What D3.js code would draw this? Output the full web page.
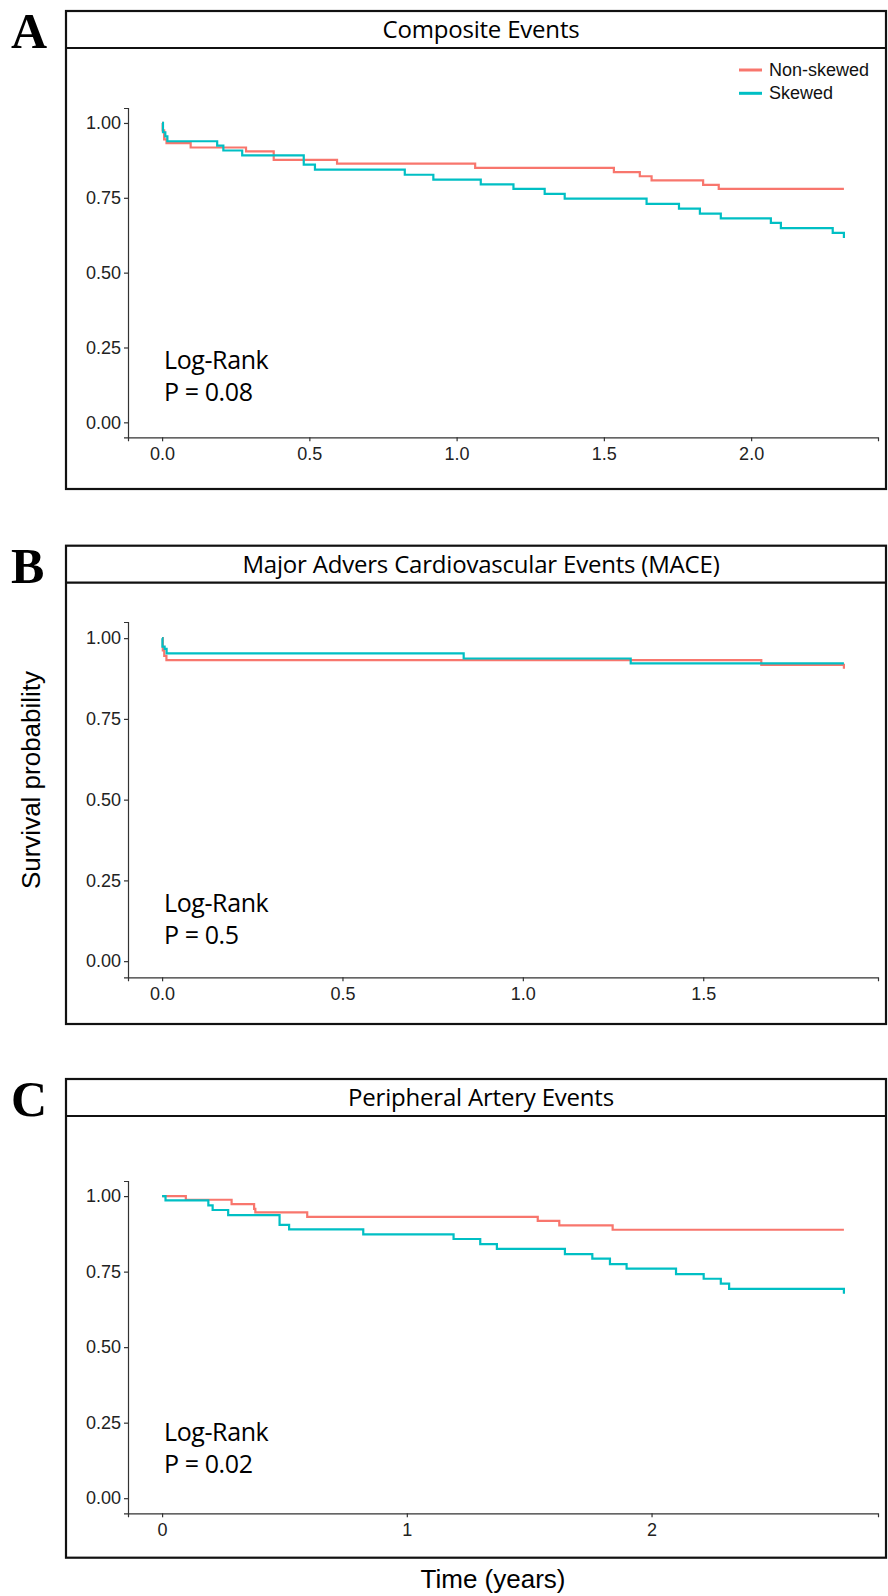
<!DOCTYPE html>
<html>
<head>
<meta charset="utf-8">
<script src="https://cdn.jsdelivr.net/npm/d3@7"></script>
<style>
  html, body { margin: 0; padding: 0; background: #fff; }
  svg { display: block; }
  .tick text { font-family: "Liberation Sans", Arial, sans-serif; font-size: 18px; fill: #222; }
  .tick line, .domain { stroke: #333; stroke-width: 1.2px; }
</style>
</head>
<body>
<div id="chart"></div>
<script>
// ---- data (time in years, survival probability) ----
const seriesNames = ['Non-skewed', 'Skewed'];
const seriesColors = ['#F8766D', '#00BFC4'];

const aEnd = 2.315;
const aTimeNon = [0, 0.002, 0.007, 0.015, 0.097, 0.285, 0.379, 0.594, 1.063, 1.534, 1.622, 1.662, 1.837, 1.89];
const aSurvNon = [1, 0.975, 0.945, 0.933, 0.918, 0.905, 0.877, 0.864, 0.850, 0.836, 0.822, 0.808, 0.793, 0.780];
const aTimeSkew = [0, 0.003, 0.011, 0.018, 0.187, 0.208, 0.272, 0.481, 0.519, 0.824, 0.921, 1.082, 1.193, 1.299, 1.367, 1.645, 1.755, 1.826, 1.897, 2.067, 2.101, 2.277, 2.315];
const aSurvSkew = [1, 0.969, 0.955, 0.939, 0.924, 0.908, 0.892, 0.861, 0.844, 0.827, 0.811, 0.795, 0.780, 0.763, 0.747, 0.730, 0.714, 0.697, 0.681, 0.666, 0.649, 0.633, 0.616];

const bEnd = 1.89;
const bTimeNon = [0, 0.002, 0.006, 0.012, 1.661, 1.89];
const bSurvNon = [1, 0.962, 0.945, 0.932, 0.917, 0.905];
const bTimeSkew = [0, 0.001, 0.007, 0.0125, 0.836, 1.299];
const bSurvSkew = [1, 0.974, 0.967, 0.953, 0.937, 0.922];

const cEnd = 2.786;
const cTimeNon = [0, 0.097, 0.284, 0.376, 0.381, 0.593, 1.535, 1.623, 1.841];
const cSurvNon = [1, 0.988, 0.9735, 0.958, 0.946, 0.9315, 0.918, 0.903, 0.8886];
const cTimeSkew = [0, 0.014, 0.189, 0.2065, 0.27, 0.48, 0.519, 0.822, 1.191, 1.30, 1.368, 1.646, 1.758, 1.83, 1.898, 2.10, 2.213, 2.283, 2.317, 2.786];
const cSurvSkew = [1, 0.986, 0.969, 0.954, 0.937, 0.905, 0.890, 0.873, 0.858, 0.841, 0.825, 0.808, 0.793, 0.775, 0.760, 0.742, 0.7265, 0.710, 0.693, 0.677];

const yTicks = [0, 0.25, 0.5, 0.75, 1];
const aTicks = [0, 0.5, 1, 1.5, 2];
const bTicks = [0, 0.5, 1, 1.5];
const cTicks = [0, 1, 2];

const panelLabels = ['A', 'B', 'C'];
const panelTitles = ['Composite Events', 'Major Advers Cardiovascular Events (MACE)', 'Peripheral Artery Events'];
const pValues = ['P = 0.08', 'P = 0.5', 'P = 0.02'];

// ---- layout ----
const W = 888, H = 1596;
const boxLeft = 66, boxRight = 886, stripH = 37;
const plotLeft = 128, plotRight = 878;

const panels = [
  { top: 11, bottom: 489, plotTop: 108, plotBottom: 437.3, annoY: 369, end: aEnd, ticks: aTicks, fmt: d3.format('.1f'),
    series: [[aTimeNon, aSurvNon], [aTimeSkew, aSurvSkew]], legend: true },
  { top: 545.7, bottom: 1024, plotTop: 622, plotBottom: 977.3, annoY: 912, end: bEnd, ticks: bTicks, fmt: d3.format('.1f'),
    series: [[bTimeNon, bSurvNon], [bTimeSkew, bSurvSkew]] },
  { top: 1079, bottom: 1557.7, plotTop: 1181, plotBottom: 1513.3, annoY: 1441, end: cEnd, ticks: cTicks, fmt: d3.format('d'),
    series: [[cTimeNon, cSurvNon], [cTimeSkew, cSurvSkew]] }
];

const svg = d3.select('#chart').append('svg')
  .attr('width', W)
  .attr('height', H);

const myriad = '"Open Sans", "Noto Sans", sans-serif';

panels.forEach((p, i) => {
  const g = svg.append('g');

  // outer box and strip
  g.append('rect')
    .attr('x', boxLeft).attr('y', p.top)
    .attr('width', boxRight - boxLeft).attr('height', p.bottom - p.top)
    .attr('fill', 'none').attr('stroke', '#111').attr('stroke-width', 2.2);
  g.append('line')
    .attr('x1', boxLeft).attr('x2', boxRight)
    .attr('y1', p.top + stripH).attr('y2', p.top + stripH)
    .attr('stroke', '#111').attr('stroke-width', 2.2);

  g.append('text')
    .attr('x', 481).attr('y', p.top + 27)
    .attr('text-anchor', 'middle')
    .style('font-family', myriad).style('font-size', '24px')
    .style('letter-spacing', '-0.2px')
    .text(panelTitles[i]);

  // panel letter
  svg.append('text')
    .attr('x', 11).attr('y', p.top + stripH)
    .style('font-family', '"Liberation Serif", "Times New Roman", serif')
    .style('font-weight', 'bold').style('font-size', '50px')
    .text(panelLabels[i]);

  const x = d3.scaleLinear().domain([-0.05 * p.end, 1.05 * p.end]).range([plotLeft, plotRight]);
  const y = d3.scaleLinear().domain([-0.05, 1.05]).range([p.plotBottom, p.plotTop]);

  g.append('g')
    .attr('transform', `translate(0,${p.plotBottom})`)
    .call(d3.axisBottom(x).tickValues(p.ticks).tickFormat(p.fmt).tickSizeOuter(0).tickSize(4).tickPadding(6));

  g.append('g')
    .attr('transform', `translate(${plotLeft},0)`)
    .call(d3.axisLeft(y).tickValues(yTicks).tickFormat(d3.format('.2f')).tickSizeOuter(0).tickSize(4).tickPadding(3));

  const line = d3.line()
    .x(d => x(d[0]))
    .y(d => y(d[1]))
    .curve(d3.curveStepAfter);

  p.series.forEach(([times, surv], s) => {
    const pts = times.map((t, k) => [t, surv[k]]);
    pts.push([p.end, surv[surv.length - 1]]);
    g.append('path')
      .datum(pts)
      .attr('fill', 'none')
      .attr('stroke', seriesColors[s])
      .attr('stroke-width', 2.2)
      .attr('d', line);
  });

  g.append('text')
    .attr('x', 164).attr('y', p.annoY)
    .style('font-family', myriad).style('font-size', '25px')
    .style('letter-spacing', '-0.4px')
    .text('Log-Rank');
  g.append('text')
    .attr('x', 164).attr('y', p.annoY + 32)
    .style('font-family', myriad).style('font-size', '25px')
    .style('letter-spacing', '-0.4px')
    .text(pValues[i]);

  if (p.legend) {
    const lg = g.append('g').attr('transform', `translate(739,${p.top + 59})`);
    seriesNames.forEach((name, s) => {
      lg.append('line')
        .attr('x1', 0).attr('x2', 23)
        .attr('y1', s * 23.3).attr('y2', s * 23.3)
        .attr('stroke', seriesColors[s]).attr('stroke-width', 3);
      lg.append('text')
        .attr('x', 30).attr('y', s * 23.3 + 6)
        .style('font-family', '"Liberation Sans", Arial, sans-serif')
        .style('font-size', '18px').style('fill', '#111')
        .text(name);
    });
  }
});

svg.append('text')
  .attr('transform', 'translate(40,780) rotate(-90)')
  .attr('text-anchor', 'middle')
  .style('font-family', '"Liberation Sans", Arial, sans-serif')
  .style('font-size', '26px')
  .text('Survival probability');

svg.append('text')
  .attr('x', 493).attr('y', 1588)
  .attr('text-anchor', 'middle')
  .style('font-family', '"Liberation Sans", Arial, sans-serif')
  .style('font-size', '26px')
  .text('Time (years)');
</script>
</body>
</html>
